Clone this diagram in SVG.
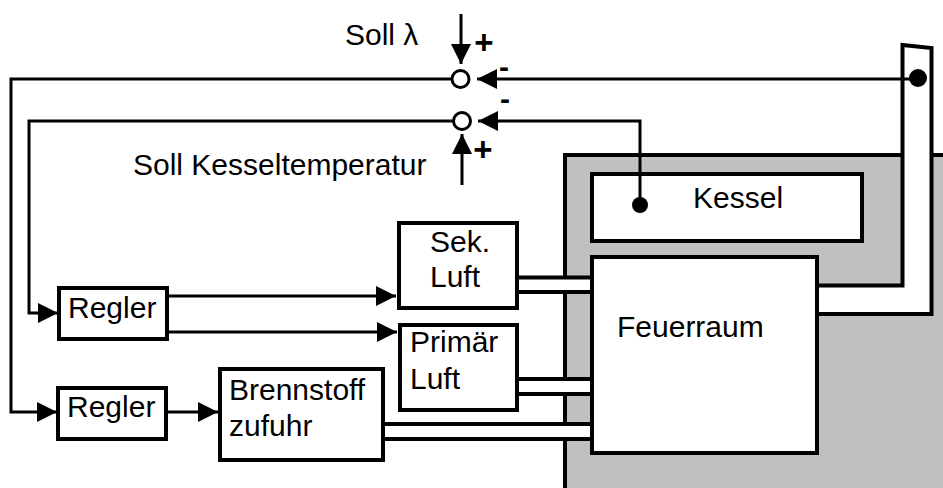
<svg xmlns="http://www.w3.org/2000/svg" width="943" height="488" viewBox="0 0 943 488">
<style>
text{font-family:"Liberation Sans",Arial,sans-serif;font-size:30px;fill:#000}
.sign{font-weight:bold;text-anchor:middle}
.plus{font-size:33px}
.box{fill:#fff;stroke:#000;stroke-width:4}
.conn{fill:none;stroke:#000;stroke-width:3}
.wall{stroke:#000;stroke-width:4}
</style>
<defs>
<marker id="arr" markerUnits="userSpaceOnUse" markerWidth="20" markerHeight="20" refX="20" refY="10" orient="auto">
<path d="M0,0 L20,10 L0,20 z" fill="#000"/>
</marker>
</defs>
<rect width="943" height="488" fill="#fff"/>
<g id="plant">
<rect x="565" y="155" width="400" height="400" fill="#c0c0c0" stroke="#000" stroke-width="4"/>
<path d="M817,285.5 L902.5,285.5 L902.5,45 L931.5,48 L931.5,314 L817,314" fill="#fff" stroke="#000" stroke-width="4"/>
</g>
<g id="pipes">
<rect x="517" y="278" width="75" height="13" fill="#fff"/>
<line class="wall" x1="517" y1="277.5" x2="592" y2="277.5"/>
<line class="wall" x1="517" y1="292" x2="592" y2="292"/>
<rect x="517" y="380" width="75" height="13" fill="#fff"/>
<line class="wall" x1="517" y1="379" x2="592" y2="379"/>
<line class="wall" x1="517" y1="394" x2="592" y2="394"/>
<rect x="383" y="425" width="209" height="13" fill="#fff"/>
<line class="wall" x1="383" y1="424" x2="592" y2="424"/>
<line class="wall" x1="383" y1="439" x2="592" y2="439"/>
</g>
<g id="kessel">
<rect class="box" x="592" y="174" width="270" height="67"/>
<text x="693" y="208">Kessel</text>
</g>
<g id="feuerraum">
<rect class="box" x="592" y="257" width="225" height="196"/>
<text x="617" y="337">Feuerraum</text>
</g>
<g id="sek-luft">
<rect class="box" x="399" y="223" width="118" height="85"/>
<text x="430" y="252">Sek.</text>
<text x="430" y="287">Luft</text>
</g>
<g id="primaer-luft">
<rect class="box" x="400" y="325" width="117" height="85"/>
<text x="410" y="352">Primär</text>
<text x="410" y="389">Luft</text>
</g>
<g id="brennstoff">
<rect class="box" x="220" y="369" width="163" height="91"/>
<text x="229" y="400">Brennstoff</text>
<text x="229" y="436">zufuhr</text>
</g>
<g id="regler1">
<rect class="box" x="59" y="288" width="108" height="51"/>
<text x="68" y="318">Regler</text>
</g>
<g id="regler2">
<rect class="box" x="58" y="388" width="108" height="51"/>
<text x="67" y="417">Regler</text>
</g>
<g id="sum-lambda">
<circle cx="460.5" cy="79" r="8.5" fill="#fff" stroke="#000" stroke-width="3"/>
</g>
<g id="sum-kessel">
<circle cx="462" cy="121" r="8.5" fill="#fff" stroke="#000" stroke-width="3"/>
</g>
<g id="connectors">
<path class="conn" d="M918,79 L477,79" marker-end="url(#arr)"/>
<path class="conn" d="M452,79 L11,79 L11,412 L57,412" marker-end="url(#arr)"/>
<path class="conn" d="M640,205 L640,121 L478,121" marker-end="url(#arr)"/>
<path class="conn" d="M453.5,121 L29,121 L29,313 L58,313" marker-end="url(#arr)"/>
<path class="conn" d="M461,14 L461,64" marker-end="url(#arr)"/>
<path class="conn" d="M462,185 L462,134" marker-end="url(#arr)"/>
<path class="conn" d="M167,296 L396,296" marker-end="url(#arr)"/>
<path class="conn" d="M167,332 L397,332" marker-end="url(#arr)"/>
<path class="conn" d="M166,412 L218,412" marker-end="url(#arr)"/>
<circle cx="918" cy="78" r="9" fill="#000"/>
<circle cx="640" cy="205" r="8" fill="#000"/>
</g>
<g id="labels">
<text x="345" y="45">Soll λ</text>
<text x="133" y="175">Soll Kesseltemperatur</text>
<text class="sign plus" x="484" y="54">+</text>
<text class="sign" x="504" y="77">-</text>
<text class="sign" x="505" y="109">-</text>
<text class="sign plus" x="483" y="161">+</text>
</g>
</svg>
